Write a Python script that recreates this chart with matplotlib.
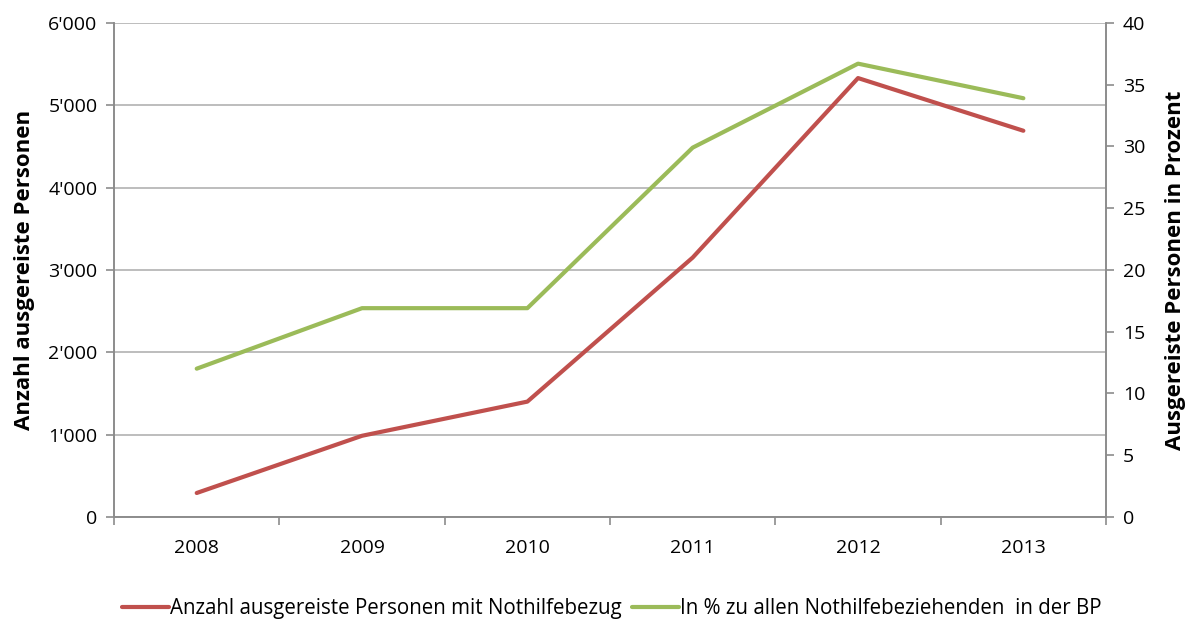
import matplotlib.pyplot as plt
import numpy as np
from matplotlib.ticker import FuncFormatter, FixedLocator

years = ['2008', '2009', '2010', '2011', '2012', '2013']
anzahl = [290, 985, 1400, 3150, 5330, 4690]
prozent = [12.0, 16.9, 16.9, 29.9, 36.7, 33.9]

red = '#C0504D'
green = '#9BBB59'
gray = '#8c8c8c'
plt.rcParams['font.family'] = ['Open Sans', 'DejaVu Sans']

fig = plt.figure(figsize=(11.88, 6.19), dpi=100)
ax = fig.add_axes([0.096, 0.165, 0.835, 0.798])
ax2 = ax.twinx()

x = np.arange(len(years))
l1, = ax.plot(x, anzahl, color=red, lw=3, solid_capstyle='round',
              label='Anzahl ausgereiste Personen mit Nothilfebezug')
l2, = ax2.plot(x, prozent, color=green, lw=3, solid_capstyle='round',
               label='In % zu allen Nothilfebeziehenden  in der BP')

ax.set_xlim(-0.5, len(years) - 0.5)
ax.set_ylim(0, 6000)
ax2.set_ylim(0, 40)
ax.set_yticks(range(0, 6001, 1000))
ax2.set_yticks(range(0, 41, 5))
ax.yaxis.set_major_formatter(FuncFormatter(
    lambda v, p: '{:,.0f}'.format(v).replace(',', "'")))
ax.grid(axis='y', color='#b8b8b8', lw=1.3)
ax.set_axisbelow(True)

# category ticks between the years, labels in the middle
ax.set_xticks(x)
ax.set_xticklabels(years)
ax.tick_params(axis='x', which='major', length=0, pad=16, labelsize=14)
ax.xaxis.set_minor_locator(FixedLocator(np.arange(-0.5, len(years), 1)))
ax.tick_params(axis='x', which='minor', length=6, color=gray, width=1.2)
ax.tick_params(axis='y', length=6, color=gray, width=1.2, labelsize=14, pad=6)
ax2.tick_params(axis='y', length=6, color=gray, width=1.2, labelsize=14, pad=6)

for a in (ax, ax2):
    a.spines['top'].set_visible(False)
    for s in ('left', 'right', 'bottom'):
        a.spines[s].set_color(gray)
        a.spines[s].set_linewidth(1.2)

ax.set_ylabel('Anzahl ausgereiste Personen', fontsize=16, fontweight='bold')
ax.yaxis.set_label_coords(-0.08, 0.5)
ax2.set_ylabel('Ausgereiste Personen in Prozent', fontsize=16,
               fontweight='bold', labelpad=14)

fig.legend(handles=[l1, l2], loc='lower center', bbox_to_anchor=(0.515, -0.03),
           ncol=2, frameon=False, fontsize=14.8, handlelength=2.3,
           handletextpad=0.05, columnspacing=0.5)

fig.savefig('out.png', dpi=100)
